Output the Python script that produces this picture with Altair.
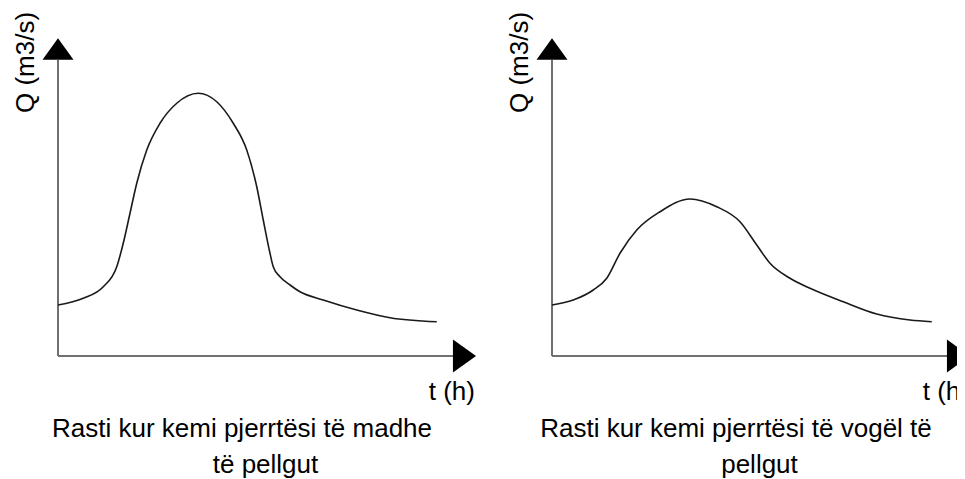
import altair as alt
import pandas as pd

# ---- data (t in h, Q in m3/s, arbitrary units) ----
t_steep = [0.0, 1.01, 1.81, 2.35, 2.61, 2.88, 3.15, 3.55, 4.08, 4.75, 5.61, 6.35, 7.01, 7.55,
           7.95, 8.21, 8.48, 8.61, 8.88, 9.28, 9.68, 10.61, 11.95, 13.28, 15.15]
q_steep = [2.04, 2.31, 2.77, 3.57, 4.51, 5.71, 6.91, 8.24, 9.31, 10.11, 10.51, 10.17, 9.31, 8.24,
           6.77, 5.44, 4.11, 3.57, 3.17, 2.84, 2.57, 2.24, 1.84, 1.53, 1.37]

t_gentle = [0.0, 0.85, 1.65, 2.19, 2.72, 3.39, 4.32, 5.52, 6.59, 7.52, 8.19, 8.72, 9.52, 10.32,
            11.65, 12.99, 14.32, 15.19]
q_gentle = [2.04, 2.24, 2.64, 3.11, 4.11, 5.04, 5.77, 6.28, 5.97, 5.37, 4.44, 3.71, 3.11, 2.71,
            2.17, 1.68, 1.44, 1.37]

captions_steep = ["Rasti kur kemi pjerrtësi të madhe", "të pellgut"]
captions_gentle = ["Rasti kur kemi pjerrtësi të vogël të", "pellgut"]
y_title = "Q (m3/s)"
x_title = "t (h)"

# ---- layout ----
W, H = 949, 471
PX = 25.0            # pixels per data unit
ORIGIN_Y = 348       # pixel row of Q = 0
Y_DOM = [(ORIGIN_Y - H) / PX, ORIGIN_Y / PX]
FONT = "Liberation Sans"
FS = 26
AXIS_TOP = 11.84
AXIS_RIGHT = 15.8
ARROW_UP_Q = 12.28
ARROW_RIGHT_T = 16.26


def panel(t, q, caps, origin_x):
    xs = alt.Scale(domain=[-origin_x / PX, (W - origin_x) / PX], nice=False, zero=False)
    ys = alt.Scale(domain=Y_DOM, nice=False, zero=False)

    def X(f):
        return alt.X(f, type="quantitative", scale=xs, axis=None)

    def Y(f):
        return alt.Y(f, type="quantitative", scale=ys, axis=None)

    curve_df = pd.DataFrame({"t": t, "q": q})
    curve = alt.Chart(curve_df).mark_line(
        interpolate="monotone", color="#1a1a1a", strokeWidth=1.6
    ).encode(x=X("t"), y=Y("q"))

    axes_df = pd.DataFrame({"x": [0, 0], "x2": [0, AXIS_RIGHT], "y": [0, 0], "y2": [AXIS_TOP, 0]})
    axes = alt.Chart(axes_df).mark_rule(color="#707070", strokeWidth=2).encode(
        x=X("x"), x2="x2", y=Y("y"), y2="y2"
    )

    up_df = pd.DataFrame({"x": [0], "y": [ARROW_UP_Q]})
    arrow_up = alt.Chart(up_df).mark_point(
        shape="M-1,0.7L1,0.7L0,-0.7Z", size=961, filled=True, color="black", opacity=1
    ).encode(x=X("x"), y=Y("y"))

    right_df = pd.DataFrame({"x": [ARROW_RIGHT_T], "y": [0]})
    arrow_right = alt.Chart(right_df).mark_point(
        shape="M-0.7,-1L0.7,0L-0.7,1Z", size=1089, filled=True, color="black", opacity=1
    ).encode(x=X("x"), y=Y("y"))

    ylab_df = pd.DataFrame({"x": [-0.96], "y": [11.74], "txt": [y_title]})
    ylab = alt.Chart(ylab_df).mark_text(
        angle=270, align="center", baseline="alphabetic", fontSize=FS, font=FONT, color="black"
    ).encode(x=X("x"), y=Y("y"), text="txt:N")

    xlab_df = pd.DataFrame({"x": [16.68], "y": [-1.76], "txt": [x_title]})
    xlab = alt.Chart(xlab_df).mark_text(
        align="right", baseline="alphabetic", fontSize=FS, font=FONT, color="black"
    ).encode(x=X("x"), y=Y("y"), text="txt:N")

    cap_df = pd.DataFrame({"x": [7.36, 8.3], "y": [-3.24, -4.66], "txt": caps})
    cap = alt.Chart(cap_df).mark_text(
        align="center", baseline="alphabetic", fontSize=FS, font=FONT, color="black"
    ).encode(x=X("x"), y=Y("y"), text="txt:N")

    return alt.layer(axes, curve, arrow_up, arrow_right, ylab, xlab, cap)


left = panel(t_steep, q_steep, captions_steep, 50)
right = panel(t_gentle, q_gentle, captions_gentle, 544)

chart = alt.layer(left, right).resolve_scale(x="independent").properties(
    width=W, height=H, padding=0, autosize=alt.AutoSizeParams(type="none")
).configure_view(stroke=None)

chart.save("out.html", embed_options={"renderer": "svg", "actions": False})
